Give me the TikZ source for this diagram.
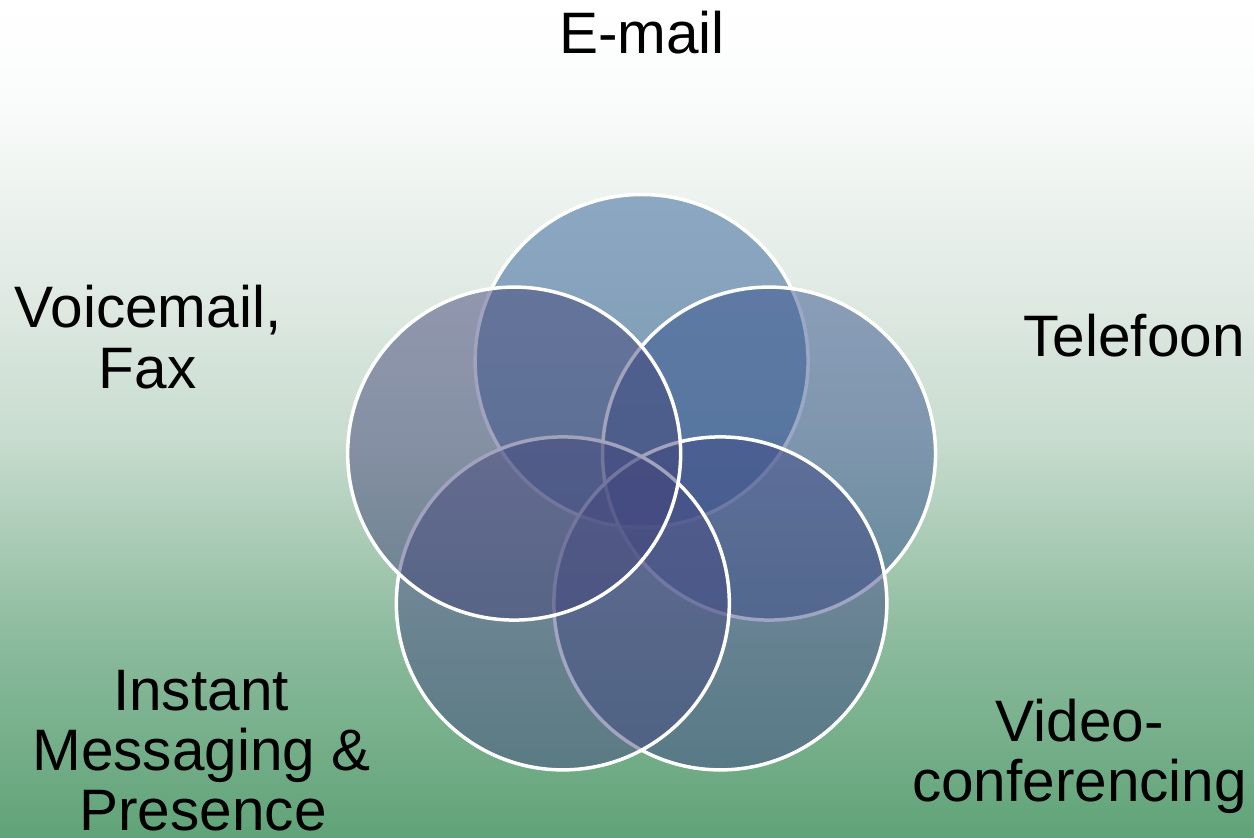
\documentclass[tikz,border=0pt]{standalone}
\usepackage{fontspec}
\setmainfont{Liberation Sans}
\usetikzlibrary{calc}
\definecolor{g0}{RGB}{96,163,120}
\definecolor{g1}{RGB}{140,187,157}
\definecolor{g2}{RGB}{200,220,207}
\definecolor{g3}{RGB}{226,235,229}
\definecolor{g4}{RGB}{250,252,251}
\pgfdeclareverticalshading{bgshade}{100bp}{color(0bp)=(g0); color(25bp)=(g0); color(36.93bp)=(g1); color(48.87bp)=(g2); color(58.41bp)=(g3); color(69.15bp)=(g4); color(75bp)=(white); color(100bp)=(white)}
\definecolor{cA}{RGB}{46,93,151}
\definecolor{cB}{RGB}{54,82,142}
\definecolor{cC}{RGB}{65,74,135}
\definecolor{cD}{RGB}{71,76,131}
\definecolor{cE}{RGB}{68,70,122}
\tikzset{
  ring/.style={circle, minimum size=333pt, inner sep=0pt, draw=white, line width=3.5pt, fill opacity=0.5, draw opacity=1},
  lbl/.style={anchor=base, inner sep=0pt, font=\fontsize{58.5}{61}\selectfont, text=black},
}
\begin{document}
\begin{tikzpicture}[x=1pt,y=1pt]
\useasboundingbox (0,0) rectangle (1254,838);
\shade[shading=bgshade] (0,0) rectangle (1254,838);
\coordinate (P) at (641.6,343);
\node[ring, fill=cA] (email) at ($(P)+(90:134)$) {};
\node[ring, fill=cB] (tel) at ($(P)+(18:134)$) {};
\node[ring, fill=cC] (video) at ($(P)+(-54:134)$) {};
\node[ring, fill=cD] (im) at ($(P)+(-126:134)$) {};
\node[ring, fill=cE] (vm) at ($(P)+(162:134)$) {};
\node[lbl] (temail) at (642,784) {E-mail};
\node[lbl] (ttel) at (1134,481.3) {Telefoon};
\node[lbl] (tvm1) at (148,510.5) {Voicemail,};
\node[lbl] (tvm2) at (147.5,449.7) {Fax};
\node[lbl] (tim1) at (201,127.3) {Instant};
\node[lbl] (tim2) at (201.5,67.3) {Messaging \&};
\node[lbl] (tim3) at (203,7) {Presence};
\node[lbl] (tvid1) at (1080,96.3) {Video-};
\node[lbl] (tvid2) at (1079.5,36.3) {conferencing};
\end{tikzpicture}
\end{document}
